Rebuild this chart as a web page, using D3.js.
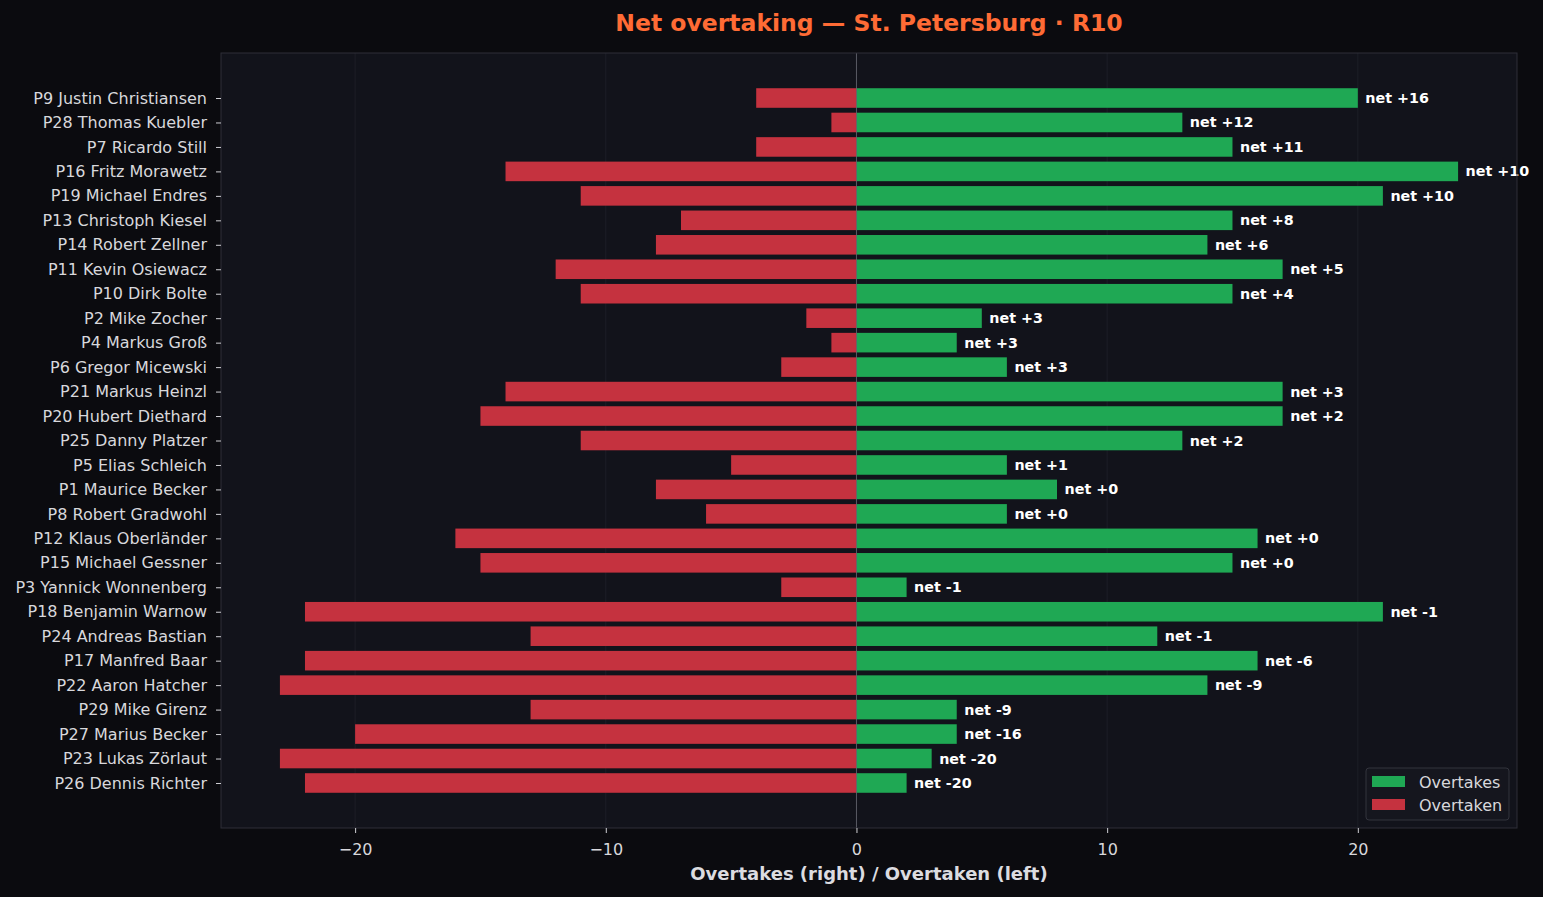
<!DOCTYPE html>
<html><head><meta charset="utf-8">
<script src="https://cdn.jsdelivr.net/npm/d3@7"></script>
<style>
html,body{margin:0;padding:0;background:#0b0b0f;}
svg{display:block;font-family:"DejaVu Sans",sans-serif;}
</style></head>
<body>
<svg id="chart" width="1543" height="897"></svg>
<script>
const drivers = ["P9 Justin Christiansen","P28 Thomas Kuebler","P7 Ricardo Still","P16 Fritz Morawetz","P19 Michael Endres","P13 Christoph Kiesel","P14 Robert Zellner","P11 Kevin Osiewacz","P10 Dirk Bolte","P2 Mike Zocher","P4 Markus Groß","P6 Gregor Micewski","P21 Markus Heinzl","P20 Hubert Diethard","P25 Danny Platzer","P5 Elias Schleich","P1 Maurice Becker","P8 Robert Gradwohl","P12 Klaus Oberländer","P15 Michael Gessner","P3 Yannick Wonnenberg","P18 Benjamin Warnow","P24 Andreas Bastian","P17 Manfred Baar","P22 Aaron Hatcher","P29 Mike Girenz","P27 Marius Becker","P23 Lukas Zörlaut","P26 Dennis Richter"];
const overtakes = [20,13,15,24,21,15,14,17,15,5,4,6,17,17,13,6,8,6,16,15,2,21,12,16,14,4,4,3,2];
const overtaken = [4,1,4,14,11,7,8,12,11,2,1,3,14,15,11,5,8,6,16,15,3,22,13,22,23,13,20,23,22];
const xTicks = [-20,-10,0,10,20];
const titleText = "Net overtaking — St. Petersburg · R10";
const xLabel = "Overtakes (right) / Overtaken (left)";

const svg = d3.select("#chart");
const L = 221, R = 1517, T = 53, B = 828;
const x = d3.scaleLinear().domain([-25.35, 26.35]).range([L, R]);
const y = d3.scaleLinear().domain([-1.84, 29.84]).range([T, B]);
const n = drivers.length;
const bh = 0.8;

svg.append("rect").attr("x",0).attr("y",0).attr("width",1543).attr("height",897).attr("fill","#0b0b0f");
svg.append("rect").attr("x",L).attr("y",T).attr("width",R-L).attr("height",B-T).attr("fill","#12131b");

// gridlines
svg.append("g").selectAll("line").data(xTicks).join("line")
  .attr("x1",d=>x(d)).attr("x2",d=>x(d)).attr("y1",T).attr("y2",B)
  .attr("stroke","#1d1e27").attr("stroke-width",1);

const idx = d3.range(n);
svg.append("g").selectAll("rect").data(idx).join("rect")
  .attr("x",i=>x(0)).attr("width",i=>x(overtakes[i])-x(0))
  .attr("y",i=>y(i-bh/2)).attr("height",i=>y(i+bh/2)-y(i-bh/2))
  .attr("fill","#1fa854");
svg.append("g").selectAll("rect").data(idx).join("rect")
  .attr("x",i=>x(-overtaken[i])).attr("width",i=>x(0)-x(-overtaken[i]))
  .attr("y",i=>y(i-bh/2)).attr("height",i=>y(i+bh/2)-y(i-bh/2))
  .attr("fill","#c5323f");

// center line
svg.append("line").attr("x1",x(0)).attr("x2",x(0)).attr("y1",T).attr("y2",B)
  .attr("stroke","#6a6b74").attr("stroke-width",0.8);

// net labels
svg.append("g").selectAll("text").data(idx).join("text")
  .attr("x",i=>x(overtakes[i]+0.3)).attr("y",i=>y(i))
  .attr("dy","0.35em").attr("fill","#ffffff").attr("font-size","14.3px").attr("font-weight","bold")
  .text(i=>{const v=overtakes[i]-overtaken[i]; return "net " + (v>=0?"+"+v:String(v));});

// axes frame
svg.append("rect").attr("x",L).attr("y",T).attr("width",R-L).attr("height",B-T)
  .attr("fill","none").attr("stroke","#2e2f38").attr("stroke-width",1);

// x axis
const xa = svg.append("g").attr("transform",`translate(0,${B})`)
  .call(d3.axisBottom(x).tickValues(xTicks).tickSize(5).tickPadding(10.5).tickFormat(d=>d<0?"\u2212"+Math.abs(d):String(d)));
xa.select(".domain").remove();
xa.selectAll("line").attr("stroke","#cfcfd4");
xa.selectAll("text").attr("fill","#d8d8dc").attr("font-size","16px").attr("font-family","DejaVu Sans");

// y axis
const ya = svg.append("g").attr("transform",`translate(${L},0)`)
  .call(d3.axisLeft(y).tickValues(idx).tickSize(5).tickPadding(9).tickFormat(i=>drivers[i]));
ya.select(".domain").remove();
ya.selectAll("line").attr("stroke","#cfcfd4");
ya.selectAll("text").attr("fill","#d8d8dc").attr("font-size","16px").attr("font-family","DejaVu Sans");

// title
svg.append("text").attr("x",869).attr("y",23).attr("dy","0.35em").attr("text-anchor","middle")
  .attr("fill","#ff6b35").attr("font-size","23.5px").attr("font-weight","bold").text(titleText);

// x label
svg.append("text").attr("x",(L+R)/2).attr("y",874).attr("dy","0.35em").attr("text-anchor","middle")
  .attr("fill","#dcdce0").attr("font-size","18px").attr("font-weight","bold").text(xLabel);

// legend
const lg = svg.append("g").attr("transform","translate(1366,768)");
lg.append("rect").attr("x",0).attr("y",0).attr("width",143).attr("height",52).attr("rx",3)
  .attr("fill","#15161e").attr("stroke","#33343d").attr("stroke-width",1);
const items = [["Overtakes","#1fa854"],["Overtaken","#c5323f"]];
items.forEach((it,k)=>{
  lg.append("rect").attr("x",6).attr("y",8+k*23).attr("width",33).attr("height",11).attr("fill",it[1]);
  lg.append("text").attr("x",53).attr("y",14+k*23).attr("dy","0.35em")
    .attr("fill","#d8d8dc").attr("font-size","16px").text(it[0]);
});
</script>
</body></html>
